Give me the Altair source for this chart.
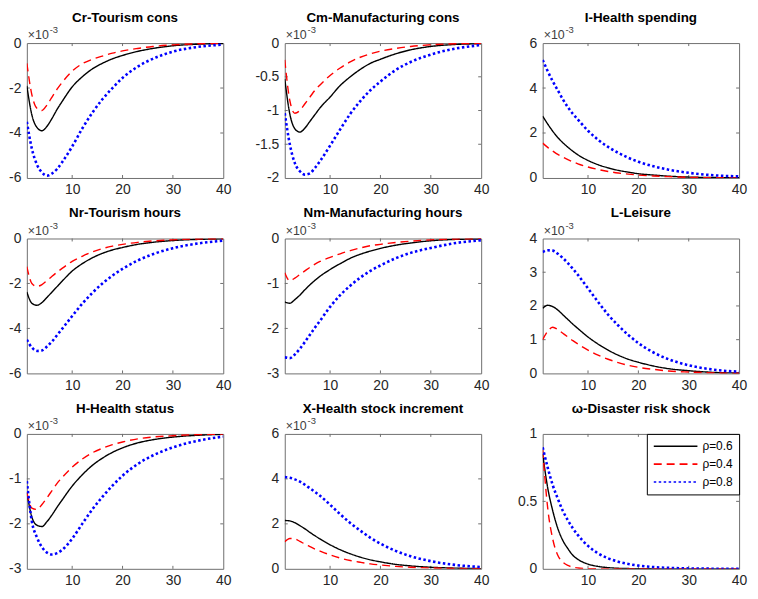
import altair as alt
import pandas as pd

# ---------------- data (values in units shown on the axes) ----------------
T = [1, 2, 3, 4, 5, 6, 7, 8, 10, 12, 14, 16, 18, 20, 23, 26, 30, 35, 40]
RHO = ["ρ=0.6", "ρ=0.4", "ρ=0.8"]

cr_06 = [-1.9, -3.2, -3.75, -3.9, -3.7, -3.35, -2.95, -2.6, -1.95, -1.5, -1.15, -0.9, -0.7, -0.55, -0.37, -0.24, -0.12, -0.05, -0.02]
cr_04 = [-0.9, -2.3, -2.9, -3.0, -2.75, -2.4, -2.05, -1.75, -1.25, -0.92, -0.72, -0.58, -0.45, -0.35, -0.24, -0.15, -0.08, -0.03, -0.01]
cr_08 = [-3.5, -4.7, -5.4, -5.75, -5.9, -5.8, -5.6, -5.3, -4.6, -3.8, -3.1, -2.5, -2.0, -1.55, -1.05, -0.7, -0.38, -0.17, -0.07]

cm_06 = [-0.53, -1.05, -1.27, -1.32, -1.26, -1.16, -1.06, -0.96, -0.8, -0.63, -0.5, -0.39, -0.3, -0.24, -0.16, -0.1, -0.05, -0.02, -0.01]
cm_04 = [-0.25, -0.85, -1.04, -1.0, -0.9, -0.8, -0.7, -0.62, -0.48, -0.37, -0.28, -0.21, -0.16, -0.12, -0.08, -0.05, -0.025, -0.01, -0.005]
cm_08 = [-1.04, -1.5, -1.78, -1.9, -1.95, -1.93, -1.85, -1.75, -1.52, -1.28, -1.05, -0.86, -0.7, -0.57, -0.4, -0.28, -0.17, -0.08, -0.03]

i_06 = [2.75, 2.4, 2.08, 1.8, 1.57, 1.37, 1.19, 1.03, 0.78, 0.59, 0.45, 0.34, 0.26, 0.19, 0.13, 0.08, 0.04, 0.02, 0.01]
i_04 = [1.55, 1.36, 1.2, 1.05, 0.93, 0.82, 0.72, 0.63, 0.49, 0.38, 0.29, 0.22, 0.17, 0.13, 0.09, 0.06, 0.03, 0.01, 0.005]
i_08 = [5.25, 4.75, 4.3, 3.9, 3.5, 3.15, 2.85, 2.6, 2.1, 1.7, 1.38, 1.12, 0.9, 0.72, 0.52, 0.37, 0.23, 0.12, 0.07]

nr_06 = [-2.38, -2.88, -2.97, -2.85, -2.62, -2.38, -2.14, -1.9, -1.45, -1.12, -0.86, -0.66, -0.51, -0.4, -0.26, -0.17, -0.09, -0.04, -0.015]
nr_04 = [-1.25, -2.0, -2.13, -2.05, -1.87, -1.68, -1.5, -1.33, -1.02, -0.79, -0.6, -0.45, -0.34, -0.26, -0.17, -0.11, -0.06, -0.02, -0.01]
nr_08 = [-4.5, -4.85, -5.0, -4.98, -4.8, -4.58, -4.3, -4.02, -3.45, -2.9, -2.42, -2.0, -1.65, -1.35, -0.98, -0.7, -0.43, -0.22, -0.1]

nm_06 = [-1.41, -1.44, -1.36, -1.26, -1.14, -1.03, -0.93, -0.84, -0.69, -0.56, -0.44, -0.35, -0.28, -0.22, -0.15, -0.1, -0.05, -0.02, -0.01]
nm_04 = [-0.76, -0.94, -0.88, -0.8, -0.72, -0.64, -0.57, -0.51, -0.42, -0.34, -0.27, -0.21, -0.16, -0.13, -0.09, -0.06, -0.03, -0.01, -0.005]
nm_08 = [-2.64, -2.66, -2.58, -2.45, -2.3, -2.14, -1.98, -1.83, -1.52, -1.26, -1.05, -0.87, -0.72, -0.6, -0.44, -0.32, -0.21, -0.1, -0.04]

l_06 = [1.93, 2.02, 1.98, 1.88, 1.74, 1.6, 1.46, 1.33, 1.08, 0.87, 0.69, 0.54, 0.42, 0.33, 0.22, 0.14, 0.08, 0.03, 0.01]
l_04 = [1.0, 1.25, 1.37, 1.3, 1.19, 1.08, 0.97, 0.87, 0.69, 0.54, 0.42, 0.32, 0.24, 0.18, 0.12, 0.07, 0.04, 0.015, 0.005]
l_08 = [3.6, 3.65, 3.64, 3.55, 3.42, 3.27, 3.1, 2.92, 2.52, 2.12, 1.74, 1.42, 1.14, 0.9, 0.62, 0.42, 0.24, 0.11, 0.05]

h_06 = [-1.3, -1.85, -2.03, -2.06, -1.95, -1.8, -1.63, -1.47, -1.16, -0.91, -0.7, -0.54, -0.41, -0.31, -0.2, -0.13, -0.07, -0.03, -0.01]
h_04 = [-1.3, -1.65, -1.68, -1.57, -1.42, -1.26, -1.1, -0.97, -0.74, -0.56, -0.42, -0.32, -0.24, -0.18, -0.11, -0.07, -0.04, -0.015, -0.005]
h_08 = [-1.05, -1.95, -2.3, -2.52, -2.64, -2.68, -2.65, -2.58, -2.33, -2.0, -1.68, -1.4, -1.15, -0.93, -0.67, -0.48, -0.3, -0.15, -0.06]

hx_06 = [2.15, 2.13, 2.05, 1.92, 1.78, 1.62, 1.47, 1.33, 1.07, 0.85, 0.67, 0.52, 0.4, 0.31, 0.2, 0.13, 0.07, 0.03, 0.01]
hx_04 = [1.2, 1.35, 1.33, 1.22, 1.1, 0.99, 0.88, 0.79, 0.62, 0.48, 0.37, 0.29, 0.22, 0.17, 0.11, 0.07, 0.04, 0.015, 0.005]
hx_08 = [4.08, 4.05, 3.98, 3.88, 3.74, 3.58, 3.42, 3.25, 2.85, 2.43, 2.04, 1.7, 1.38, 1.12, 0.8, 0.56, 0.34, 0.17, 0.08]

w_06 = [0.85, 0.6, 0.43, 0.3, 0.21, 0.15, 0.1, 0.07, 0.035, 0.018, 0.009, 0.004, 0.002, 0.001, 0, 0, 0, 0, 0]
w_04 = [0.88, 0.45, 0.22, 0.1, 0.05, 0.025, 0.012, 0.006, 0.001, 0, 0, 0, 0, 0, 0, 0, 0, 0, 0]
w_08 = [0.9, 0.75, 0.62, 0.52, 0.43, 0.36, 0.3, 0.25, 0.17, 0.115, 0.078, 0.053, 0.036, 0.024, 0.013, 0.007, 0.003, 0.001, 0]

TITLES = ["Cr-Tourism cons", "Cm-Manufacturing cons", "I-Health spending",
          "Nr-Tourism hours", "Nm-Manufacturing hours", "L-Leisure",
          "H-Health status", "X-Health stock increment", "ω-Disaster risk shock"]
SERIES = [(cr_06, cr_04, cr_08), (cm_06, cm_04, cm_08), (i_06, i_04, i_08),
          (nr_06, nr_04, nr_08), (nm_06, nm_04, nm_08), (l_06, l_04, l_08),
          (h_06, h_04, h_08), (hx_06, hx_04, hx_08), (w_06, w_04, w_08)]
Y_DOMAINS = [[-6, 0], [-2, 0], [0, 6], [-6, 0], [-3, 0], [0, 4], [-3, 0], [0, 6], [0, 1]]
Y_TICKS = [[-6, -4, -2, 0], [-2, -1.5, -1, -0.5, 0], [0, 2, 4, 6],
           [-6, -4, -2, 0], [-3, -2, -1, 0], [0, 1, 2, 3, 4],
           [-3, -2, -1, 0], [0, 2, 4, 6], [0, 0.5, 1]]
X_TICKS = [10, 20, 30, 40]

# ---------------- styling ----------------
COLORS = ["#000000", "#ff0000", "#0000ff"]
DASHES = [[1, 0], [8, 5], [2.5, 2.5]]
WIDTHS = [1.4, 1.4, 2.6]
FONT = "Liberation Sans"
BOX = "#6e6e6e"
W, H = 198, 136

color_scale = alt.Scale(domain=RHO, range=COLORS)
dash_scale = alt.Scale(domain=RHO, range=DASHES)

# symbol box is 11px; the path runs 44px to the right, labels offset past it
legend = alt.Legend(
    title=None, orient="top-right", offset=0, fillColor="white",
    strokeColor="#000000", padding=6, labelFontSize=12, labelFont=FONT,
    labelColor="#000000", symbolType="M-1,0H7", symbolSize=121,
    symbolStrokeWidth=1.6, rowPadding=5, labelOffset=37,
)

ann = pd.DataFrame({"a": [0]})

panels = []
for k in range(9):
    rows = []
    for r, vals in zip(RHO, SERIES[k]):
        for t, v in zip(T, vals):
            rows.append({"t": t, "v": v, "rho": r})
    df = pd.DataFrame(rows)
    show_legend = (k == 8)
    xs = alt.Scale(domain=[1, 40], nice=False, zero=False)
    ys = alt.Scale(domain=Y_DOMAINS[k], nice=False, zero=False)
    x_enc = alt.X("t:Q", scale=xs,
                  axis=alt.Axis(values=X_TICKS, title=None, labelFlush=False,
                                labelPadding=5))
    y_enc = alt.Y("v:Q", scale=ys,
                  axis=alt.Axis(values=Y_TICKS[k], title=None, labelPadding=6,
                                labelExpr="'' + datum.value"))
    layers = []

    # small inward tick marks on all four sides (MATLAB style)
    xt = pd.DataFrame({"t": X_TICKS[:-1]})
    yt = pd.DataFrame({"v": [v for v in Y_TICKS[k] if v not in Y_DOMAINS[k]]})
    layers.append(alt.Chart(xt).mark_rule(color=BOX, strokeWidth=1)
                  .encode(x=x_enc, y=alt.value(H), y2=alt.value(H - 3)))
    layers.append(alt.Chart(xt).mark_rule(color=BOX, strokeWidth=1)
                  .encode(x=x_enc, y=alt.value(0), y2=alt.value(3)))
    layers.append(alt.Chart(yt).mark_rule(color=BOX, strokeWidth=1)
                  .encode(y=y_enc, x=alt.value(0), x2=alt.value(3)))
    layers.append(alt.Chart(yt).mark_rule(color=BOX, strokeWidth=1)
                  .encode(y=y_enc, x=alt.value(W), x2=alt.value(W - 3)))

    for j, r in enumerate(RHO):
        sub = df[df["rho"] == r]
        if show_legend:
            c = alt.Color("rho:N", scale=color_scale, legend=legend)
            d = alt.StrokeDash("rho:N", scale=dash_scale, legend=legend)
        else:
            c = alt.Color("rho:N", scale=color_scale, legend=None)
            d = alt.StrokeDash("rho:N", scale=dash_scale, legend=None)
        layers.append(
            alt.Chart(sub).mark_line(strokeWidth=WIDTHS[j], interpolate="monotone",
                                     clip=True, strokeCap="butt")
            .encode(x=x_enc, y=y_enc, color=c, strokeDash=d)
        )
    op = 0 if k == 8 else 1
    layers.append(
        alt.Chart(ann).mark_text(text="×10", align="left", baseline="alphabetic",
                                 fontSize=12.5, font=FONT, color="#404040", opacity=op)
        .encode(x=alt.value(1), y=alt.value(-4))
    )
    layers.append(
        alt.Chart(ann).mark_text(text="-3", align="left", baseline="alphabetic",
                                 fontSize=9.5, font=FONT, color="#404040", opacity=op)
        .encode(x=alt.value(23), y=alt.value(-10))
    )
    panel = alt.layer(*layers).properties(
        width=W, height=H,
        title=alt.TitleParams(TITLES[k], fontSize=13.5, font=FONT, fontWeight="bold",
                              color="#000000", offset=1),
    )
    panels.append(panel)

chart = (
    alt.concat(*panels, columns=3, spacing={"row": 61, "column": 62}, bounds="flush")
    .resolve_scale(x="independent", y="independent", color="independent",
                   strokeDash="independent")
    .resolve_legend(color="independent", strokeDash="independent")
    .properties(padding={"left": 0, "top": 0, "right": 2, "bottom": 0},
                background="white")
    .configure_view(stroke=BOX, strokeWidth=1)
    .configure_axis(grid=False, ticks=False, domain=False, labelFont=FONT,
                    labelFontSize=14, labelColor="#262626")
)

chart.save("out.html", embed_options={"renderer": "svg", "actions": False})
